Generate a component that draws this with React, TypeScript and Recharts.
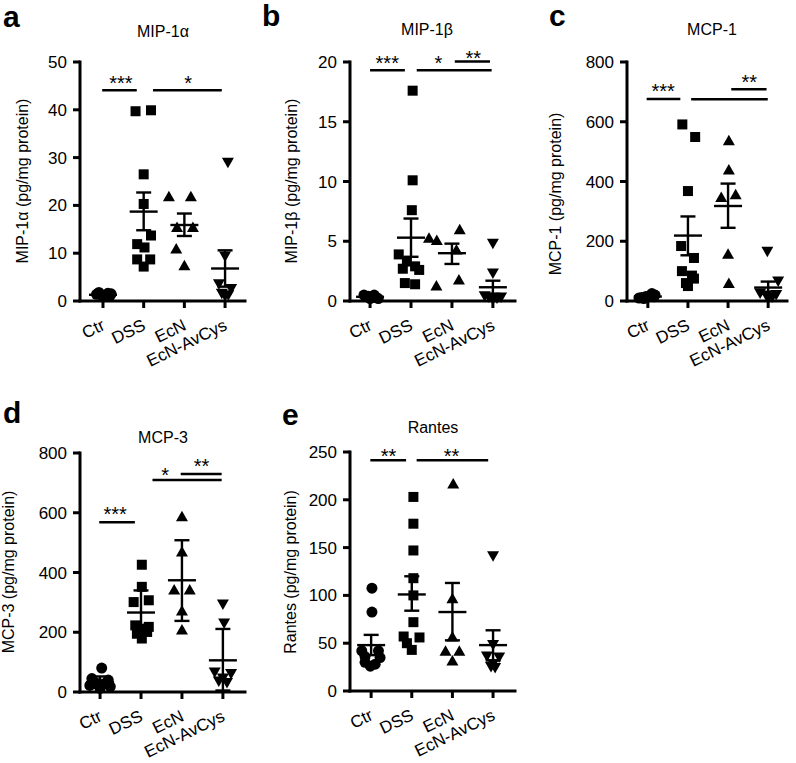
import React from 'react'
import { ScatterChart, Scatter, XAxis, YAxis, ErrorBar, ReferenceLine } from 'recharts'

const FONT = '"Liberation Sans", Arial, Helvetica, sans-serif'

const groups = ['Ctr', 'DSS', 'EcN', 'EcN-AvCys']
const groupTicks = [0, 1, 2, 3]

// a — MIP-1α
const mip1aTicks = [0, 10, 20, 30, 40, 50]
const mip1aCtr = [1.8, 1.6, 1.4, 1.2, 1.0, 1.3, 1.1, 1.5]
const mip1aCtrDx = [-0.1, 0.12, -0.16, 0.18, 0, -0.05, 0.06, 0.2]
const mip1aDss = [39.7, 39.9, 26.5, 20.3, 13.7, 11.9, 11.2, 8.7, 8.7, 7.2]
const mip1aDssDx = [-0.2, 0.18, 0, 0, 0.18, -0.16, 0.02, -0.16, 0.16, 0]
const mip1aEcn = [21.9, 21.9, 15.5, 15.5, 11, 7.5]
const mip1aEcnDx = [-0.38, 0.16, -0.18, 0.21, -0.2, 0]
const mip1aCys = [28.9, 9.3, 3.5, 2.5, 1.5, 1.2, 1.0]
const mip1aCysDx = [0.07, 0, -0.15, 0.15, -0.08, 0.08, 0]
const mip1aMean = [1.3, 18.7, 15.9, 6.8]
const mip1aUpper = [1.5, 22.7, 18.3, 10.6]
const mip1aLower = [1.1, 14.8, 13.6, 3.0]

// b — MIP-1β
const mip1bTicks = [0, 5, 10, 15, 20]
const mip1bCtr = [0.5, 0.4, 0.3, 0.3, 0.2, 0.4, 0.5, 0.2]
const mip1bCtrDx = [-0.15, -0.05, 0.05, 0.15, 0, -0.1, 0.1, 0.2]
const mip1bDss = [17.6, 10.1, 7.6, 3.9, 3.3, 2.9, 2.7, 2.6, 1.5, 1.4]
const mip1bDssDx = [0.04, 0.04, 0.02, -0.3, -0.1, 0.1, -0.2, 0.2, -0.15, 0.1]
const mip1bEcn = [5.3, 5.1, 6.0, 4.3, 1.3, 1.8]
const mip1bEcnDx = [-0.56, -0.37, 0.19, 0.11, -0.38, 0.17]
const mip1bCys = [4.8, 2.3, 0.4, 0.3, 0.3, 0.2, 0.1]
const mip1bCysDx = [0, 0, -0.2, 0.2, -0.1, 0.1, 0]
const mip1bMean = [0.35, 5.3, 4.0, 1.15]
const mip1bUpper = [0.45, 6.9, 4.8, 1.7]
const mip1bLower = [0.25, 3.7, 3.1, 0.6]

// c — MCP-1
const mcp1Ticks = [0, 200, 400, 600, 800]
const mcp1Ctr = [25, 20, 15, 12, 10, 18, 14, 8]
const mcp1CtrDx = [0.1, 0.18, -0.05, -0.15, -0.22, 0.05, 0.15, -0.1]
const mcp1Dss = [591, 549, 368, 184, 144, 100, 85, 75, 60, 50]
const mcp1DssDx = [-0.14, 0.18, 0, -0.17, 0.15, -0.15, 0.1, 0.15, -0.05, 0]
const mcp1Ecn = [538, 440, 348, 357, 158, 60]
const mcp1EcnDx = [0.02, 0.02, -0.17, 0.19, 0, 0.02]
const mcp1Cys = [165, 65, 25, 20, 18, 12, 10]
const mcp1CysDx = [-0.02, 0.25, -0.2, 0.2, -0.05, 0.1, 0]
const mcp1Mean = [15, 219, 318, 45]
const mcp1Upper = [19, 283, 393, 65]
const mcp1Lower = [11, 153, 245, 25]

// d — MCP-3
const mcp3Ticks = [0, 200, 400, 600, 800]
const mcp3Ctr = [80, 45, 40, 30, 28, 22, 18, 12, 20]
const mcp3CtrDx = [0.04, -0.2, 0.2, -0.1, 0.1, -0.25, 0.25, 0, 0]
const mcp3Dss = [426, 352, 301, 307, 223, 218, 212, 195, 201, 179]
const mcp3DssDx = [0.02, 0.02, -0.18, 0.19, -0.14, 0.19, 0, -0.1, 0.15, 0.02]
const mcp3Ecn = [588, 470, 343, 343, 273, 209]
const mcp3EcnDx = [0, 0, -0.19, 0.19, 0, 0]
const mcp3Cys = [293, 229, 65, 60, 45, 35, 30]
const mcp3CysDx = [0, 0.03, -0.2, 0.2, 0, -0.1, 0.1]
const mcp3Mean = [33, 266, 374, 106]
const mcp3Upper = [52, 340, 508, 211]
const mcp3Lower = [14, 195, 238, 5]

// e — Rantes
const rantesTicks = [0, 50, 100, 150, 200, 250]
const rantesCtr = [107.6, 82.6, 42, 42, 36, 35, 30, 28, 26]
const rantesCtrDx = [0.02, 0.02, -0.23, 0.18, -0.15, 0.22, -0.15, 0.1, -0.02]
const rantesDss = [203, 175, 147, 118, 100, 72, 57, 56, 50, 43]
const rantesDssDx = [0.04, 0.04, 0.04, 0.04, 0.04, 0.04, -0.2, 0.19, -0.12, 0]
const rantesEcn = [217, 97, 57, 42, 42, 32]
const rantesEcnDx = [0.02, 0, 0, -0.17, 0.17, 0]
const rantesCys = [141, 48, 36, 35, 28, 25, 24]
const rantesCysDx = [0, 0, -0.15, 0.15, 0, -0.05, 0.05]
const rantesMean = [48, 101, 82.6, 48]
const rantesUpper = [58.7, 120, 113, 63.5]
const rantesLower = [37.5, 84, 53, 32]

// significance brackets: [x1, x2, y]  and stars: [x, y, text]
const mip1aLines = [[-0.02, 0.83, 44.1], [1.23, 2.92, 44.1]]
const mip1aStars = [[0.44, 44.3, '***'], [2.09, 44.3, '*']]
const mip1bLines = [[0, 0.85, 19.3], [1.14, 2.97, 19.3], [2.07, 2.93, 20.05]]
const mip1bStars = [[0.42, 19.4, '***'], [1.67, 19.4, '*'], [2.52, 19.8, '**']]
const mcp1Lines = [[-0.03, 0.81, 676], [1.08, 2.99, 675], [2.08, 2.96, 709]]
const mcp1Stars = [[0.38, 683, '***'], [2.53, 713, '**']]
const mcp3Lines = [[-0.02, 0.85, 568], [1.28, 2.97, 710], [1.97, 2.97, 730]]
const mcp3Stars = [[0.37, 576, '***'], [1.59, 705, '*'], [2.48, 737, '**']]
const rantesLines = [[-0.02, 0.86, 241.5], [1.12, 2.88, 241.5]]
const rantesStars = [[0.43, 240, '**'], [1.98, 240, '**']]

type Pt = { x: number; y: number }

function Marker(kind: string) {
  return (p: any) => {
    const { cx, cy } = p
    if (cx == null || cy == null) return null
    if (kind === 'circle') return <circle cx={cx} cy={cy} r={5.5} fill="#000" />
    if (kind === 'square') return <rect x={cx - 5} y={cy - 5} width={10} height={10} fill="#000" />
    if (kind === 'up')
      return <polygon points={`${cx - 6},${cy + 5} ${cx + 6},${cy + 5} ${cx},${cy - 5.5}`} fill="#000" />
    return <polygon points={`${cx - 6},${cy - 5} ${cx + 6},${cy - 5} ${cx},${cy + 5.5}`} fill="#000" />
  }
}
const shapes = [Marker('circle'), Marker('square'), Marker('up'), Marker('down')]

const MeanMark = (p: any) => (
  <line x1={p.cx - 14} x2={p.cx + 14} y1={p.cy} y2={p.cy} stroke="#000" strokeWidth={2.4} />
)

const StarText = (p: any) => (
  <text x={p.cx} y={p.cy + 1} textAnchor="middle" fontSize={20} fontFamily={FONT} fill="#000">
    {p.payload.t}
  </text>
)

function CatTick(p: any) {
  const { x, y, payload } = p
  return (
    <text
      x={0}
      y={0}
      transform={`translate(${x + 3},${y + 19}) rotate(-26)`}
      textAnchor="end"
      fontSize={17}
      fontFamily={FONT}
      fill="#000"
    >
      {groups[payload.value]}
    </text>
  )
}

interface PanelCfg {
  letter: string
  title: string
  yLabel: string
  ticks: number[]
  values: number[][]
  dx: number[][]
  mean: number[]
  upper: number[]
  lower: number[]
  lines: number[][]
  stars: (number | string)[][]
  axisX: number
  plotTop: number
  plotRight: number
  xDomain: [number, number]
  letterPos: [number, number]
  titlePos: [number, number]
  labelPos: [number, number]
}

const panels: PanelCfg[] = [
  {
    letter: 'a', title: 'MIP-1α', yLabel: 'MIP-1α (pg/mg protein)', ticks: mip1aTicks,
    values: [mip1aCtr, mip1aDss, mip1aEcn, mip1aCys], dx: [mip1aCtrDx, mip1aDssDx, mip1aEcnDx, mip1aCysDx],
    mean: mip1aMean, upper: mip1aUpper, lower: mip1aLower, lines: mip1aLines, stars: mip1aStars,
    axisX: 80, plotTop: 62, plotRight: 245, xDomain: [-0.565, 3.49],
    letterPos: [3, 27], titlePos: [163, 37], labelPos: [28, 181],
  },
  {
    letter: 'b', title: 'MIP-1β', yLabel: 'MIP-1β (pg/mg protein)', ticks: mip1bTicks,
    values: [mip1bCtr, mip1bDss, mip1bEcn, mip1bCys], dx: [mip1bCtrDx, mip1bDssDx, mip1bEcnDx, mip1bCysDx],
    mean: mip1bMean, upper: mip1bUpper, lower: mip1bLower, lines: mip1bLines, stars: mip1bStars,
    axisX: 350, plotTop: 62, plotRight: 515, xDomain: [-0.49, 3.54],
    letterPos: [262, 26], titlePos: [427, 35], labelPos: [297, 181],
  },
  {
    letter: 'c', title: 'MCP-1', yLabel: 'MCP-1 (pg/mg protein)', ticks: mcp1Ticks,
    values: [mcp1Ctr, mcp1Dss, mcp1Ecn, mcp1Cys], dx: [mcp1CtrDx, mcp1DssDx, mcp1EcnDx, mcp1CysDx],
    mean: mcp1Mean, upper: mcp1Upper, lower: mcp1Lower, lines: mcp1Lines, stars: mcp1Stars,
    axisX: 627, plotTop: 62, plotRight: 787, xDomain: [-0.52, 3.47],
    letterPos: [549, 26], titlePos: [712, 35], labelPos: [561, 194],
  },
  {
    letter: 'd', title: 'MCP-3', yLabel: 'MCP-3 (pg/mg protein)', ticks: mcp3Ticks,
    values: [mcp3Ctr, mcp3Dss, mcp3Ecn, mcp3Cys], dx: [mcp3CtrDx, mcp3DssDx, mcp3EcnDx, mcp3CysDx],
    mean: mcp3Mean, upper: mcp3Upper, lower: mcp3Lower, lines: mcp3Lines, stars: mcp3Stars,
    axisX: 80, plotTop: 453, plotRight: 245, xDomain: [-0.49, 3.54],
    letterPos: [3, 423], titlePos: [163, 443], labelPos: [14, 572],
  },
  {
    letter: 'e', title: 'Rantes', yLabel: 'Rantes (pg/mg protein)', ticks: rantesTicks,
    values: [rantesCtr, rantesDss, rantesEcn, rantesCys], dx: [rantesCtrDx, rantesDssDx, rantesEcnDx, rantesCysDx],
    mean: rantesMean, upper: rantesUpper, lower: rantesLower, lines: rantesLines, stars: rantesStars,
    axisX: 350, plotTop: 452, plotRight: 515, xDomain: [-0.52, 3.54],
    letterPos: [282, 425], titlePos: [433, 433], labelPos: [296, 572],
  },
]

const axisStyle = { stroke: '#000', strokeWidth: 3, strokeLinecap: 'square' as const }
const tickLineStyle = { stroke: '#000', strokeWidth: 3 }

function Panel({ cfg }: { cfg: PanelCfg }) {
  const left = cfg.axisX - 80
  const top = cfg.plotTop - 62
  const width = cfg.plotRight - left + 15
  const height = 380
  const yMax = cfg.ticks[cfg.ticks.length - 1]
  const meanData = cfg.mean.map((m, i) => ({ x: i, y: m, err: [m - cfg.lower[i], cfg.upper[i] - m] }))
  const starData = cfg.stars.map((s) => ({ x: s[0] as number, y: s[1] as number, t: s[2] as string }))
  return (
    <div style={{ position: 'absolute', left, top, width, height }}>
      <ScatterChart width={width} height={height} margin={{ top: 62, right: 15, bottom: 49, left: 30 }}>
        <XAxis
          type="number"
          dataKey="x"
          domain={cfg.xDomain}
          ticks={groupTicks}
          height={30}
          axisLine={axisStyle}
          tickLine={tickLineStyle}
          tickSize={7}
          tick={<CatTick />}
          interval={0}
        />
        <YAxis
          type="number"
          dataKey="y"
          domain={[0, yMax]}
          ticks={cfg.ticks}
          width={50}
          axisLine={axisStyle}
          tickLine={tickLineStyle}
          tickSize={7}
          tickMargin={6}
          interval={0}
          tick={{ fill: '#000', fontSize: 17, fontFamily: FONT }}
        />
        {cfg.values.map((vals, gi) => {
          const pts: Pt[] = vals.map((v, k) => ({ x: gi + cfg.dx[gi][k], y: v }))
          return <Scatter key={gi} data={pts} shape={shapes[gi]} isAnimationActive={false} />
        })}
        <Scatter data={meanData} shape={MeanMark} isAnimationActive={false}>
          <ErrorBar dataKey="err" direction="y" width={7.5} stroke="#000" strokeWidth={2.4} isAnimationActive={false} />
        </Scatter>
        {cfg.lines.map((l, i) => (
          <ReferenceLine
            key={i}
            segment={[{ x: l[0], y: l[2] }, { x: l[1], y: l[2] }]}
            stroke="#000"
            strokeWidth={2.5}
            ifOverflow="visible"
          />
        ))}
        <Scatter data={starData} shape={StarText} isAnimationActive={false} />
      </ScatterChart>
    </div>
  )
}

export default function App() {
  return (
    <div style={{ position: 'absolute', left: 0, top: 0, width: 796, height: 763, background: '#fff' }}>
      {panels.map((p) => (
        <Panel key={p.letter} cfg={p} />
      ))}
      <svg width={796} height={763} style={{ position: 'absolute', left: 0, top: 0, pointerEvents: 'none' }}>
        {panels.map((p) => (
          <g key={p.letter} fontFamily={FONT} fill="#000">
            <text x={p.letterPos[0]} y={p.letterPos[1]} fontSize={30} fontWeight="bold">
              {p.letter}
            </text>
            <text x={p.titlePos[0]} y={p.titlePos[1]} fontSize={16} textAnchor="middle">
              {p.title}
            </text>
            <text
              x={0}
              y={0}
              transform={`translate(${p.labelPos[0]},${p.labelPos[1]}) rotate(-90)`}
              fontSize={16}
              textAnchor="middle"
            >
              {p.yLabel}
            </text>
          </g>
        ))}
      </svg>
    </div>
  )
}
